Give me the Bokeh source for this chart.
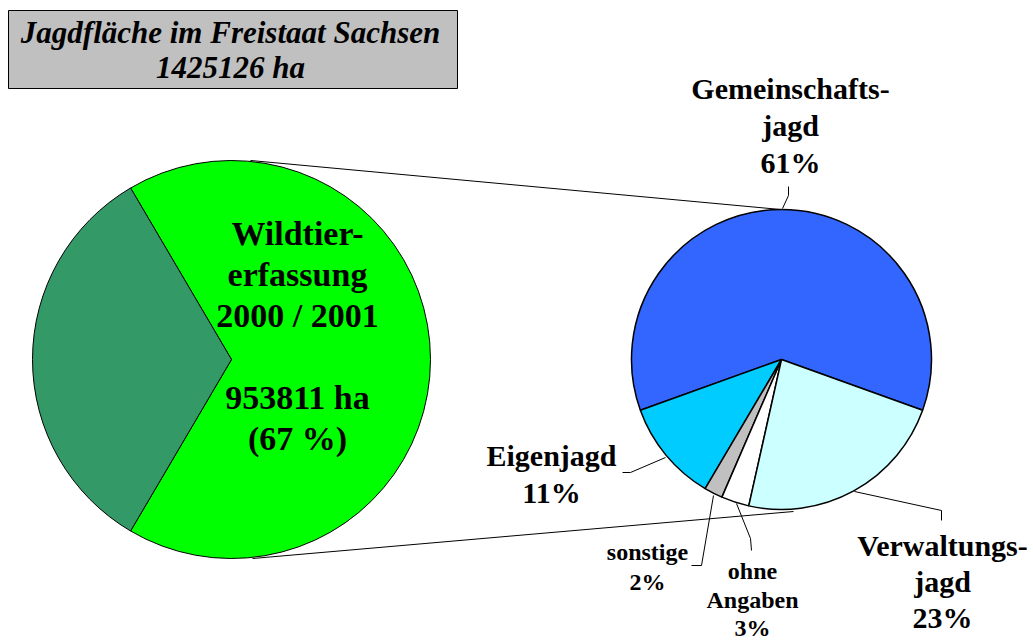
import math
from bokeh.plotting import figure
from bokeh.models import Range1d
from bokeh.embed import file_html
from bokeh.resources import INLINE
from bokeh.core.properties import value

# ---------------- data ----------------
title_text = "Jagdfläche im Freistaat Sachsen"
total_area = 1425126
wildtier_area = 953811
main_colors = ["#00FF00", "#339966"]
main_label_lines = ["Wildtier-", "erfassung", "2000 / 2001", ""]

sub_categories = ["Gemeinschaftsjagd", "Eigenjagd", "sonstige", "ohne Angaben", "Verwaltungsjagd"]
sub_values = [61, 11, 2, 3, 23]
sub_colors = ["#3366FF", "#00CCFF", "#C0C0C0", "#FFFFFF", "#CCFFFF"]
sub_label_lines = [["Gemeinschafts-", "jagd"], ["Eigenjagd"], ["sonstige"], ["ohne", "Angaben"], ["Verwaltungs-", "jagd"]]

# ---------------- layout (screen pixels) ----------------
W, H = 1033, 643
def Y(sy):
    return H - sy

FONT = value("Liberation Serif")
BASE_FIX = 0.34  # empirical baseline correction, in em

def label(x, baseline, t, fs, style="bold"):
    p.text(x=[x], y=[Y(baseline - BASE_FIX * fs)], text=[t], text_font=FONT,
           text_font_style=style, text_font_size=f"{fs}px", text_align="center",
           text_baseline="alphabetic", text_color="black")

p = figure(width=W, height=H, output_backend="svg", toolbar_location=None,
           x_range=Range1d(0, W), y_range=Range1d(0, H),
           x_axis_location=None, y_axis_location=None, min_border=0,
           outline_line_color=None, background_fill_color="white",
           border_fill_color="white")
p.xgrid.visible = False
p.ygrid.visible = False

# title box
p.quad(left=8, right=457, top=Y(10), bottom=Y(88), fill_color="#C0C0C0", line_color="black", line_width=1)
label(230, 43, title_text, 31, "bold italic")
label(230, 78, f"{total_area} ha", 31, "bold italic")

# connector lines between the pies
p.segment(x0=[250, 252], y0=[Y(160), Y(558)], x1=[780, 793], y1=[Y(209), Y(511)],
          line_color="black", line_width=1)

# main pie
lcx, lcy, lr = 231, 359, 199
frac = wildtier_area / total_area
ang = frac * 2 * math.pi
p.wedge(x=lcx, y=Y(lcy), radius=lr,
        start_angle=[-ang / 2, ang / 2], end_angle=[ang / 2, 2 * math.pi - ang / 2],
        fill_color=main_colors, line_color="black", line_width=1)

main_lines = main_label_lines + [f"{wildtier_area} ha", f"({round(frac * 100)} %)"]
main_baselines = [245, 286, 327, 368, 409, 450]
for t, b in zip(main_lines, main_baselines):
    if t:
        label(297, b, t, 34)

# sub pie
rcx, rcy, rr = 781, 359, 150
start = math.pi / 2 - (sub_values[0] / 100 * 2 * math.pi) / 2
starts, ends = [], []
acc = start
for v in sub_values:
    starts.append(acc)
    acc += v / 100 * 2 * math.pi
    ends.append(acc)
p.wedge(x=rcx, y=Y(rcy), radius=rr, start_angle=starts, end_angle=ends,
        fill_color=sub_colors, line_color="black", line_width=1.5)

# leader lines
leaders = [
    [(782, 208), (788, 195), (788, 186)],
    [(665, 457), (630, 472), (622, 472)],
    [(713, 495), (701, 565), (691, 565)],
    [(736, 503), (750, 538), (751, 550)],
    [(854, 491), (941, 510), (941, 520)],
]
p.multi_line(xs=[[pt[0] for pt in l] for l in leaders],
             ys=[[Y(pt[1]) for pt in l] for l in leaders],
             line_color="black", line_width=1)

# sub labels: (center x, first baseline, line step, font size)
label_pos = [(790, 98, 37, 30), (551, 465, 37, 30), (647, 560, 30, 24), (752, 579, 28.5, 24), (942, 555, 36, 30)]
for lines, v, (cx, b0, step, fs) in zip(sub_label_lines, sub_values, label_pos):
    all_lines = lines + [f"{v}%"]
    for i, t in enumerate(all_lines):
        label(cx, b0 + i * step, t, fs)

open("out.html", "w").write(file_html(p, INLINE))
